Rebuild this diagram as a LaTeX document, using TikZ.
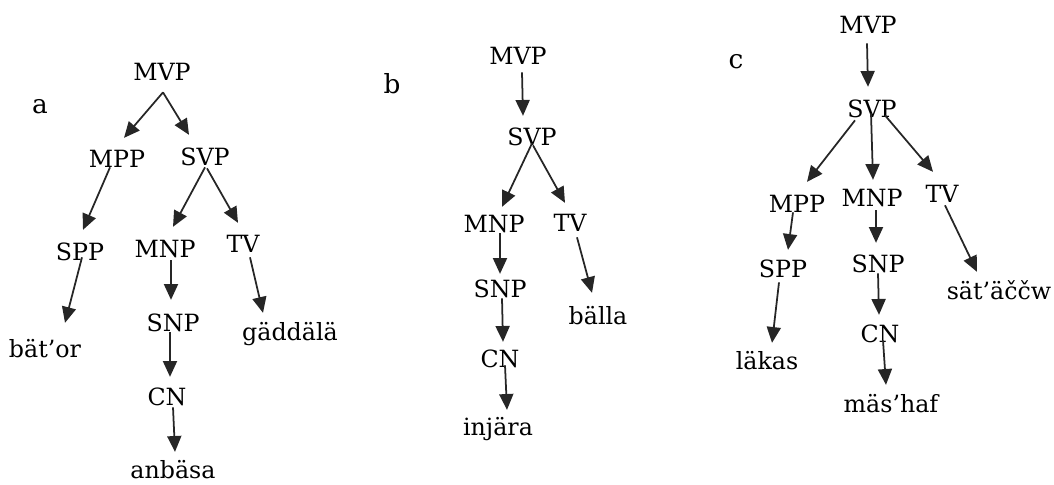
\documentclass[tikz,border=0pt]{standalone}
\usepackage{fontspec}
\setmainfont{DejaVu Serif}
\usetikzlibrary{arrows.meta,calc}

\begin{document}
\begin{tikzpicture}[
  x=0.02cm,y=-0.02cm,
  font=\fontsize{13.5}{16}\selectfont,
  cat/.style={inner sep=0pt,anchor=base,text height=9pt,text depth=0pt},
  tag/.style={inner sep=0pt,anchor=base,font=\fontsize{15}{17}\selectfont},
  arr/.style={line width=1pt,draw=black!85,-{Triangle[length=9pt,width=8pt]}}
]
\useasboundingbox (0,0) rectangle (1054,484);

% tree a
\node[tag] (labA) at (40,113) {a};
\node[cat] (mvpA) at (162,80) {MVP};
\node[cat] (mppA) at (117,167) {MPP};
\node[cat] (svpA) at (205,165) {SVP};
\node[cat] (sppA) at (80,260) {SPP};
\node[cat] (mnpA) at (165,257) {MNP};
\node[cat] (tvA) at (243,252) {TV};
\node[cat] (batorA) at (45,357) {bät’or};
\node[cat] (snpA) at (173,331) {SNP};
\node[cat] (gaddalaA) at (290,340) {gäddälä};
\node[cat] (cnA) at (167,405) {CN};
\node[cat] (anbasaA) at (173,478) {anbäsa};
\draw[arr] ($(mvpA.south)+(1,12)$) -- ($(mppA.north)+(7,-13)$);
\draw[arr] ($(mvpA.south)+(1,12)$) -- ($(svpA.north)+(-16,-14)$);
\draw[arr] ($(mppA.south)+(-7,0)$) -- ($(sppA.north)+(3,-14)$);
\draw[arr] ($(svpA.south)+(0,2)$) -- ($(mnpA.north)+(8,-14)$);
\draw[arr] ($(svpA.south)+(2,3)$) -- ($(tvA.north)+(-5,-13)$);
\draw[arr] ($(sppA.south)+(2,-3)$) -- ($(batorA.north)+(20,-18)$);
\draw[arr] ($(mnpA.south)+(6,3)$) -- ($(snpA.north)+(-2,-15)$);
\draw[arr] ($(tvA.south)+(7,5)$) -- ($(gaddalaA.north)+(-27,-11)$);
\draw[arr] ($(snpA.south)+(-3,1)$) -- ($(cnA.north)+(3,-12)$);
\draw[arr] ($(cnA.south)+(6,2)$) -- ($(anbasaA.north)+(2,-10)$);

% tree b
\node[tag] (labB) at (392,93) {b};
\node[cat] (mvpB) at (518,64) {MVP};
\node[cat] (svpB) at (532,145) {SVP};
\node[cat] (mnpB) at (494,232) {MNP};
\node[cat] (tvB) at (570,231) {TV};
\node[cat] (snpB) at (500,297) {SNP};
\node[cat] (ballaB) at (598,324) {bälla};
\node[cat] (cnB) at (500,367) {CN};
\node[cat] (injaraB) at (498,435) {injära};
\draw[arr] ($(mvpB.south)+(4,8)$) -- ($(svpB.north)+(-9,-13)$);
\draw[arr] ($(svpB.south)+(0,-2)$) -- ($(mnpB.north)+(8,-9)$);
\draw[arr] ($(svpB.south)+(1,0)$) -- ($(tvB.north)+(-5,-12)$);
\draw[arr] ($(mnpB.south)+(6,1)$) -- ($(snpB.north)+(0,-7)$);
\draw[arr] ($(tvB.south)+(7,6)$) -- ($(ballaB.north)+(-6,-15)$);
\draw[arr] ($(snpB.south)+(2,1)$) -- ($(cnB.north)+(3,-9)$);
\draw[arr] ($(cnB.south)+(5,-2)$) -- ($(injaraB.north)+(9,-9)$);

% tree c
\node[tag] (labC) at (736,68) {c};
\node[cat] (mvpC) at (868,33) {MVP};
\node[cat] (svpC) at (872,117) {SVP};
\node[cat] (mppC) at (797,212) {MPP};
\node[cat] (mnpC) at (872,206) {MNP};
\node[cat] (tvC) at (942,202) {TV};
\node[cat] (sppC) at (783,277) {SPP};
\node[cat] (snpC) at (878,272) {SNP};
\node[cat] (satC) at (999,299) {sät’äččw};
\node[cat] (lakasC) at (767,369) {läkas};
\node[cat] (cnC) at (880,342) {CN};
\node[cat] (mashafC) at (891,412) {mäs’haf};
\draw[arr] ($(mvpC.south)+(-1,10)$) -- ($(svpC.north)+(-4,-14)$);
\draw[arr] ($(svpC.south)+(-17,3)$) -- ($(mppC.north)+(10,-14)$);
\draw[arr] ($(svpC.south)+(-1,-4)$) -- ($(mnpC.north)+(1,-10)$);
\draw[arr] ($(svpC.south)+(13,-2)$) -- ($(tvC.north)+(-9,-14)$);
\draw[arr] ($(mppC.south)+(-4,0)$) -- ($(sppC.north)+(5,-11)$);
\draw[arr] ($(mnpC.south)+(4,4)$) -- ($(snpC.north)+(-2,-13)$);
\draw[arr] ($(tvC.south)+(3,3)$) -- ($(satC.north)+(-22,-11)$);
\draw[arr] ($(sppC.south)+(-4,5)$) -- ($(lakasC.north)+(5,-10)$);
\draw[arr] ($(snpC.south)+(0,1)$) -- ($(cnC.north)+(-1,-11)$);
\draw[arr] ($(cnC.south)+(3,-2)$) -- ($(mashafC.north)+(-5,-11)$);
\end{tikzpicture}
\end{document}
